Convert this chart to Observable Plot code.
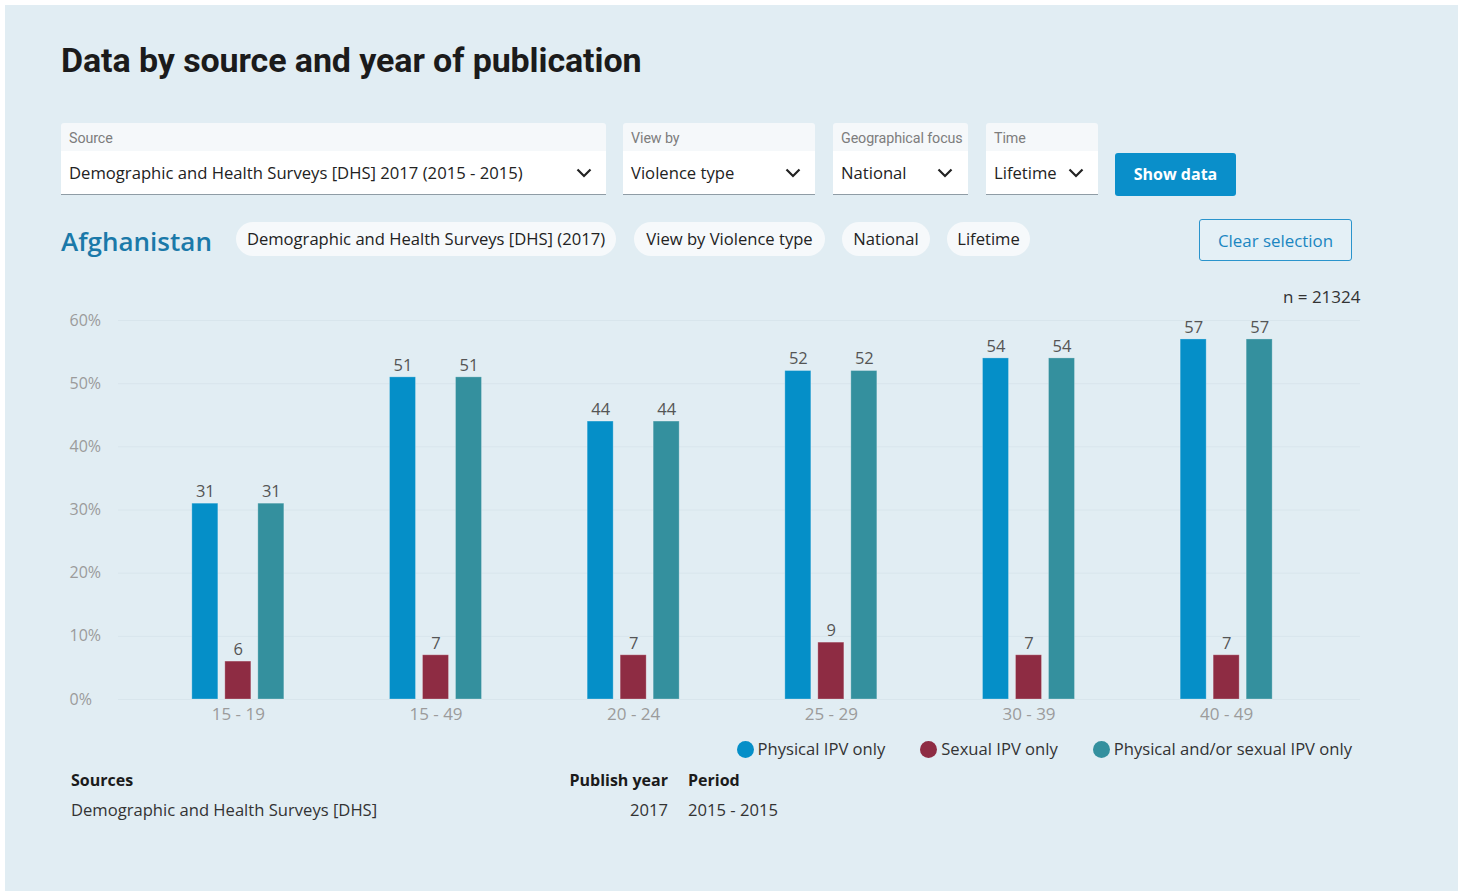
<!DOCTYPE html>
<html><head><meta charset="utf-8">
<script src="https://cdn.jsdelivr.net/npm/d3@7"></script>
<script src="https://cdn.jsdelivr.net/npm/@observablehq/plot@0.6"></script>
<style>
html,body{margin:0;padding:0;background:#fff;}
body{position:relative;width:1458px;height:891px;overflow:hidden;font-family:"Open Sans",sans-serif;color:#222;}
.panel{position:absolute;left:5px;top:5px;width:1453px;height:886px;background:#e1edf3;}
.abs{position:absolute;}
.title{left:61px;top:40px;font-family:Roboto,sans-serif;font-weight:700;font-size:34px;line-height:40px;color:#1b1b1b;letter-spacing:-0.1px;}
.dd{position:absolute;top:123px;height:72px;border-radius:3px 3px 0 0;overflow:hidden;box-sizing:border-box;border-bottom:1.5px solid #8f9ca5;}
.dd .lab{height:28px;background:#f5f8fa;font-family:Roboto,sans-serif;font-size:14.3px;color:#7d7d7d;line-height:31px;padding-left:8px;letter-spacing:-0.1px;}
.dd .val{height:43px;background:#fff;font-size:16.65px;line-height:44px;padding-left:8px;color:#222;position:relative;}
.dd .val svg{position:absolute;top:16px;}
.btn{left:1115px;top:153px;width:121px;height:43px;background:#0a8fca;border-radius:3px;color:#fff;font-weight:700;font-size:16px;line-height:43px;text-align:center;}
.country{left:61px;top:223px;font-size:26px;line-height:36px;font-weight:600;color:#1a79a9;}
.pill{position:absolute;top:222px;height:34px;border-radius:17px;background:#f6f9fb;font-size:16.6px;line-height:34px;text-align:center;color:#222;}
.clear{left:1199px;top:219px;width:153px;height:42px;box-sizing:border-box;border:1px solid #2a94cc;border-radius:3px;color:#1b86c1;font-size:16.9px;line-height:41px;text-align:center;background:#e4f0f6;}
#chart{position:absolute;left:40px;top:280px;}
.legend{position:absolute;top:737px;right:106px;display:flex;gap:35px;font-size:16.6px;line-height:24px;color:#333;}
.legend .it{display:flex;align-items:center;gap:4px;}
.legend .dot{width:17px;height:17px;border-radius:50%;}
.th{font-weight:700;font-size:16px;color:#1b1b1b;line-height:24px;}
.td{font-size:16.6px;color:#333;line-height:24px;}
</style></head>
<body>
<div class="panel"></div>
<div class="abs title">Data by source and year of publication</div>

<div class="dd" style="left:61px;width:545px"><div class="lab">Source</div><div class="val">Demographic and Health Surveys [DHS] 2017 (2015 - 2015)<svg style="left:515px" width="16" height="12" viewBox="0 0 16 12"><path d="M1.5 2.5 L8 9 L14.5 2.5" fill="none" stroke="#222" stroke-width="2.2"/></svg></div></div>
<div class="dd" style="left:623px;width:192px"><div class="lab">View by</div><div class="val">Violence type<svg style="left:162px" width="16" height="12" viewBox="0 0 16 12"><path d="M1.5 2.5 L8 9 L14.5 2.5" fill="none" stroke="#222" stroke-width="2.2"/></svg></div></div>
<div class="dd" style="left:833px;width:135px"><div class="lab">Geographical focus</div><div class="val">National<svg style="left:104px" width="16" height="12" viewBox="0 0 16 12"><path d="M1.5 2.5 L8 9 L14.5 2.5" fill="none" stroke="#222" stroke-width="2.2"/></svg></div></div>
<div class="dd" style="left:986px;width:112px"><div class="lab">Time</div><div class="val">Lifetime<svg style="left:82px" width="16" height="12" viewBox="0 0 16 12"><path d="M1.5 2.5 L8 9 L14.5 2.5" fill="none" stroke="#222" stroke-width="2.2"/></svg></div></div>
<div class="abs btn">Show data</div>

<div class="abs country">Afghanistan</div>
<div class="pill" style="left:236px;width:380px">Demographic and Health Surveys [DHS] (2017)</div>
<div class="pill" style="left:634px;width:191px">View by Violence type</div>
<div class="pill" style="left:842px;width:88px">National</div>
<div class="pill" style="left:947px;width:83px">Lifetime</div>
<div class="abs clear">Clear selection</div>

<div id="chart"></div>
<div class="legend" id="legend"></div>

<div class="abs th" style="left:71px;top:768px">Sources</div>
<div class="abs th" style="right:790px;top:768px">Publish year</div>
<div class="abs th" style="left:688px;top:768px">Period</div>
<div class="abs td" style="left:71px;top:798px">Demographic and Health Surveys [DHS]</div>
<div class="abs td" style="right:790px;top:798px">2017</div>
<div class="abs td" style="left:688px;top:798px">2015 - 2015</div>

<script>
const ageGroups = ["15 - 19", "15 - 49", "20 - 24", "25 - 29", "30 - 39", "40 - 49"];
const physicalIPV = [31, 51, 44, 52, 54, 57];
const sexualIPV = [6, 7, 7, 9, 7, 7];
const physicalOrSexualIPV = [31, 51, 44, 52, 54, 57];
const seriesNames = ["Physical IPV only", "Sexual IPV only", "Physical and/or sexual IPV only"];
const seriesColors = ["#058fc8", "#8e2c43", "#34909e"];
const yTicks = [0, 10, 20, 30, 40, 50, 60];
const sampleSize = 21324;

const seriesValues = [physicalIPV, sexualIPV, physicalOrSexualIPV];
const rows = seriesNames.map((s, i) => ageGroups.map((g, j) => ({group: g, series: s, value: seriesValues[i][j]})));

const W = 1380, H = 450, mL = 78, mR = 60, mT = 40, mB = 31, inL = 21, inR = 35;
const bandW = (W - mL - mR - inL - inR) / ageGroups.length;
const barW = 26, barStep = 33;
const inset = (bandW - barW) / 2;

const marks = [
  Plot.gridY(yTicks, {stroke: "#d8e5ec", strokeOpacity: 1, strokeWidth: 1}),
  Plot.axisY(yTicks, {tickSize: 0, tickPadding: 0, textAnchor: "start", dx: -49, tickFormat: d => d + "%", fill: "#9b9b9b", fontSize: 16, label: null}),
  Plot.axisX({tickSize: 0, tickPadding: 8, fill: "#9b9b9b", fontSize: 17, label: null})
];
rows.forEach((r, i) => {
  const off = (i - 1) * barStep;
  marks.push(Plot.barY(r, {x: "group", y: "value", fill: seriesColors[i], stroke: "#ffffff", strokeOpacity: 0.25, strokeWidth: 1, insetLeft: inset, insetRight: inset, dx: off}));
  marks.push(Plot.text(r, {x: "group", y: "value", text: d => String(d.value), dx: off, dy: -12, fill: "#555", fontSize: 16.5}));
});
marks.push(Plot.text([`n = ${sampleSize}`], {frameAnchor: "top-right", textAnchor: "end", lineAnchor: "middle", dy: -23, fill: "#333", fontSize: 17}));

const chart = Plot.plot({
  width: W, height: H,
  marginLeft: mL, marginRight: mR, marginTop: mT, marginBottom: mB,
  style: {background: "transparent", fontFamily: "Open Sans, sans-serif", overflow: "visible"},
  x: {domain: ageGroups, padding: 0, round: false, insetLeft: inL, insetRight: inR},
  y: {domain: [0, 60]},
  marks
});
document.getElementById("chart").appendChild(chart);

const leg = document.getElementById("legend");
seriesNames.forEach((s, i) => {
  const it = document.createElement("div");
  it.className = "it";
  it.innerHTML = `<span class="dot" style="background:${seriesColors[i]}"></span><span>${s}</span>`;
  leg.appendChild(it);
});
</script>
</body></html>
